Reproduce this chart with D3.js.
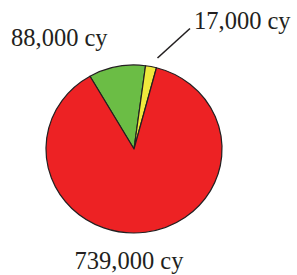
<!DOCTYPE html>
<html>
<head>
<meta charset="utf-8">
<script src="https://cdn.jsdelivr.net/npm/d3@7"></script>
<style>
  body { margin: 0; background: #fff; }
  text { font-family: "Liberation Serif", "Times New Roman", serif; fill: #231f20; }
</style>
</head>
<body>
<svg id="chart" width="297" height="275"></svg>
<script>
// volumes in cubic yards
const categories = ['green', 'yellow', 'red'];
const values = [88000, 17000, 739000];
const labels = ['88,000 cy', '17,000 cy', '739,000 cy'];
const colors = ['#6bbd45', '#f0e93c', '#ed2224'];

const svg = d3.select('#chart');
const cx = 134, cy = 149, r = 84;
const startA = -30 * Math.PI / 180;

const pie = d3.pie().sort(null).value(d => d)
  .startAngle(startA).endAngle(startA + 2 * Math.PI);
const arc = d3.arc().innerRadius(0).outerRadius(r);
const arcs = pie(values);

// pie is a little wider than tall in the picture
const g = svg.append('g')
  .attr('transform', 'translate(' + cx + ',' + cy + ') scale(1.048,1)');

g.selectAll('path')
  .data(arcs)
  .enter().append('path')
  .attr('d', arc)
  .attr('fill', (d, i) => colors[i])
  .attr('stroke', '#231f20')
  .attr('stroke-width', 1.2)
  .attr('vector-effect', 'non-scaling-stroke')
  .attr('stroke-linejoin', 'round');

// labels
const labelPos = [
  {x: 11, y: 46, anchor: 'start'},
  {x: 194, y: 29, anchor: 'start'},
  {x: 129, y: 269, anchor: 'middle'}
];
svg.selectAll('text.lbl')
  .data(labels)
  .enter().append('text')
  .attr('class', 'lbl')
  .attr('x', (d, i) => labelPos[i].x)
  .attr('y', (d, i) => labelPos[i].y)
  .attr('text-anchor', (d, i) => labelPos[i].anchor)
  .attr('font-size', 24.5)
  .text(d => d);

// leader line for the small slice
svg.append('line')
  .attr('x1', 157.5).attr('y1', 58)
  .attr('x2', 190).attr('y2', 28.5)
  .attr('stroke', '#231f20')
  .attr('stroke-width', 1.6);
</script>
</body>
</html>
